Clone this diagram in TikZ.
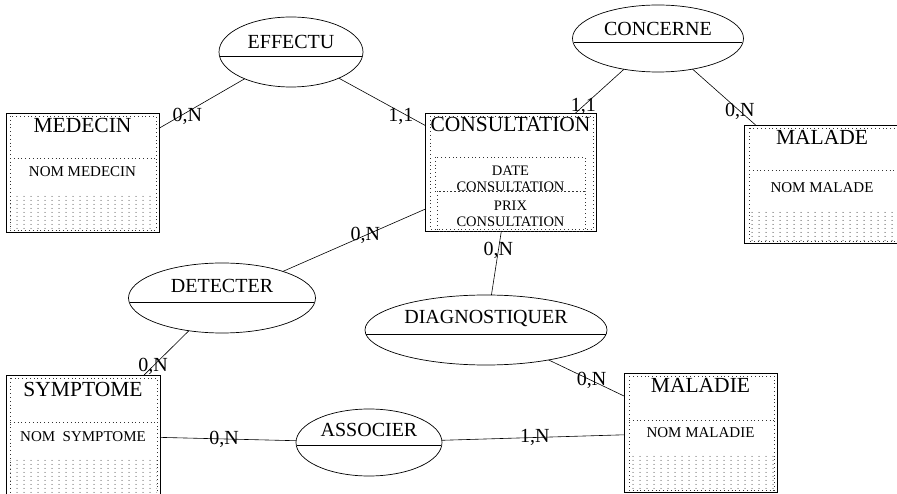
\documentclass[tikz,border=0pt]{standalone}
\usepackage{fontspec}
\setmainfont{Liberation Serif}
\usepackage{tikz}
\usetikzlibrary{calc,patterns,patterns.meta,shapes.geometric}

\tikzdeclarepattern{
  name=grillepoints,
  type=uncolored,
  bounding box={(0pt,0pt) and (7pt,4pt)},
  tile size={(7pt,4pt)},
  code={\pgfpathcircle{\pgfpoint{3.5pt}{2pt}}{0.6pt}\pgfusepath{fill}}
}

\tikzset{
  entite/.style={draw,line width=0.8pt,inner sep=0pt,outer sep=0pt},
  relation/.style={draw,ellipse,line width=0.7pt,inner sep=0pt,outer sep=0pt},
  titre/.style={font=\fontsize{21.5}{23}\selectfont,inner sep=0pt},
  nomrel/.style={font=\fontsize{20}{22}\selectfont,inner sep=0pt},
  attribut/.style={font=\fontsize{15}{16}\selectfont,inner sep=0pt,align=center},
  attribut2/.style={font=\fontsize{14.5}{16}\selectfont,inner sep=0pt,align=center},
  card/.style={font=\fontsize{20}{22}\selectfont,inner sep=0pt},
  lien/.style={line width=0.6pt},
  pointille/.style={line width=0.8pt,black!80,dash pattern=on 0.8pt off 3pt},
  trame/.style={pattern=grillepoints,pattern color=black!85}
}

\begin{document}
\begin{tikzpicture}[x=1pt,y=-1pt]
\useasboundingbox (0,0) rectangle (897,494);

% entites
\node[entite,minimum width=153pt,minimum height=119pt] (medecin) at (82.5,172.5) {};
\fill[trame] ($(medecin.south west)+(4,-38)$) rectangle ($(medecin.south east)+(-3,-2)$);
\draw[pointille] ($(medecin.north west)+(4,3)$) rectangle ($(medecin.south east)+(-3,-2)$);
\draw[pointille] ($(medecin.north west)+(4,45)$) -- ($(medecin.north east)+(-3,45)$);
\node[titre] (medecinT) at ($(medecin.north)+(0,12)$) {MEDECIN};
\node[attribut] (nomMedecin) at ($(medecin.north)+(0,59)$) {NOM MEDECIN};

\node[entite,minimum width=171pt,minimum height=118pt] (consultation) at (510.5,172) {};
\draw[pointille] ($(consultation.north west)+(5,3)$) rectangle ($(consultation.south east)+(-3,-2)$);
\draw[pointille] ($(consultation.north west)+(10,44)$) rectangle ($(consultation.north west)+(160,78)$);
\draw[pointille] ($(consultation.north west)+(12,78)$) rectangle ($(consultation.north west)+(160,118)$);
\node[titre] (consultationT) at ($(consultation.north)+(0,11)$) {CONSULTATION};
\begin{scope}
  \clip ($(consultation.north west)+(10,44)$) rectangle ($(consultation.north west)+(160,78)$);
  \node[attribut2] (dateConsultation) at ($(consultation.north)+(0,65.5)$) {DATE\\CONSULTATION};
\end{scope}
\begin{scope}
  \clip ($(consultation.north west)+(12,78)$) rectangle ($(consultation.north west)+(160,118)$);
  \node[attribut2] (prixConsultation) at ($(consultation.north)+(0,101)$) {PRIX\\CONSULTATION};
\end{scope}

\node[entite,minimum width=156pt,minimum height=118pt] (malade) at (822,184) {};
\fill[trame] ($(malade.north west)+(5,85)$) rectangle ($(malade.south east)+(-3,-2)$);
\draw[pointille] ($(malade.north west)+(5,3)$) rectangle ($(malade.south east)+(-3,-2)$);
\draw[pointille] ($(malade.north west)+(5,45)$) -- ($(malade.north east)+(-3,45)$);
\node[titre] (maladeT) at ($(malade.north)+(0,12)$) {MALADE};
\node[attribut] (nomMalade) at ($(malade.north)+(0,63)$) {NOM MALADE};

\node[entite,minimum width=154pt,minimum height=121pt] (symptome) at (83,435.5) {};
\fill[trame] ($(symptome.north west)+(4,83)$) rectangle ($(symptome.south east)+(-3,-2)$);
\draw[pointille] ($(symptome.north west)+(4,3)$) rectangle ($(symptome.south east)+(-3,-2)$);
\draw[pointille] ($(symptome.north west)+(4,47)$) -- ($(symptome.north east)+(-3,47)$);
\node[titre] (symptomeT) at ($(symptome.north)+(0,14)$) {SYMPTOME};
\node[attribut] (nomSymptome) at ($(symptome.north)+(0,62)$) {NOM\ \ SYMPTOME};

\node[entite,minimum width=153pt,minimum height=119pt] (maladie) at (700.5,432.5) {};
\fill[trame] ($(maladie.north west)+(5,82)$) rectangle ($(maladie.south east)+(-3,-2)$);
\draw[pointille] ($(maladie.north west)+(5,3)$) rectangle ($(maladie.south east)+(-3,-2)$);
\draw[pointille] ($(maladie.north west)+(5,47)$) -- ($(maladie.north east)+(-3,47)$);
\node[titre] (maladieT) at ($(maladie.north)+(0,12)$) {MALADIE};
\node[attribut] (nomMaladie) at ($(maladie.north)+(0,60)$) {NOM MALADIE};

% associations
\node[relation,minimum width=144pt,minimum height=70pt] (effectu) at (291,52) {};
\draw[lien] ($(effectu.west)!0.006!(effectu.east)+(0,4)$) -- ($(effectu.east)!0.006!(effectu.west)+(0,4)$);
\node[nomrel] (effectuT) at ($(effectu)+(0,-10)$) {EFFECTU};

\node[relation,minimum width=171pt,minimum height=67pt] (concerne) at (658,38.5) {};
\draw[lien] ($(concerne.west)!0.006!(concerne.east)+(0,4)$) -- ($(concerne.east)!0.006!(concerne.west)+(0,4)$);
\node[nomrel] (concerneT) at ($(concerne)+(0,-10)$) {CONCERNE};

\node[relation,minimum width=187pt,minimum height=70pt] (detecter) at (222,298) {};
\draw[lien] ($(detecter.west)!0.006!(detecter.east)+(0,4)$) -- ($(detecter.east)!0.006!(detecter.west)+(0,4)$);
\node[nomrel] (detecterT) at ($(detecter)+(0,-12)$) {DETECTER};

\node[relation,minimum width=242pt,minimum height=70pt] (diagnostiquer) at (486,330) {};
\draw[lien] ($(diagnostiquer.west)!0.006!(diagnostiquer.east)+(0,4)$) -- ($(diagnostiquer.east)!0.006!(diagnostiquer.west)+(0,4)$);
\node[nomrel] (diagnostiquerT) at ($(diagnostiquer)+(0,-11.5)$) {DIAGNOSTIQUER};

\node[relation,minimum width=146pt,minimum height=67pt] (associer) at (369,442.5) {};
\draw[lien] ($(associer.west)!0.006!(associer.east)+(0,3)$) -- ($(associer.east)!0.006!(associer.west)+(0,3)$);
\node[nomrel] (associerT) at ($(associer)+(0,-12.5)$) {ASSOCIER};

% liens et cardinalites
\draw[lien] (medecin) -- node[card,pos=0.33,yshift=-4pt] (cardMedecin) {0,N} (effectu);
\draw[lien] (effectu) -- node[card,pos=0.72,yshift=-4pt] (cardEffectu) {1,1} (consultation);
\draw[lien] (concerne) -- node[card,pos=0.84] (cardConcerne) {1,1} (consultation);
\draw[lien] (concerne) -- node[card,pos=0.75] (cardMalade) {0,N} (malade);
\draw[lien] (consultation) -- node[card,pos=0.42] (cardDetecter) {0,N} (detecter);
\draw[lien] (consultation) -- node[card,pos=0.31] (cardDiagnostiquer) {0,N} (diagnostiquer);
\draw[lien] (detecter) -- node[card,pos=0.8] (cardSymptome) {0,N} (symptome);
\draw[lien] (diagnostiquer) -- node[card,pos=0.57] (cardMaladie) {0,N} (maladie);
\draw[lien] (symptome) -- node[card,pos=0.47] (cardAssocier) {0,N} (associer);
\draw[lien] (associer) -- node[card,pos=0.51] (cardAssocierMaladie) {1,N} (maladie);
\end{tikzpicture}
\end{document}
